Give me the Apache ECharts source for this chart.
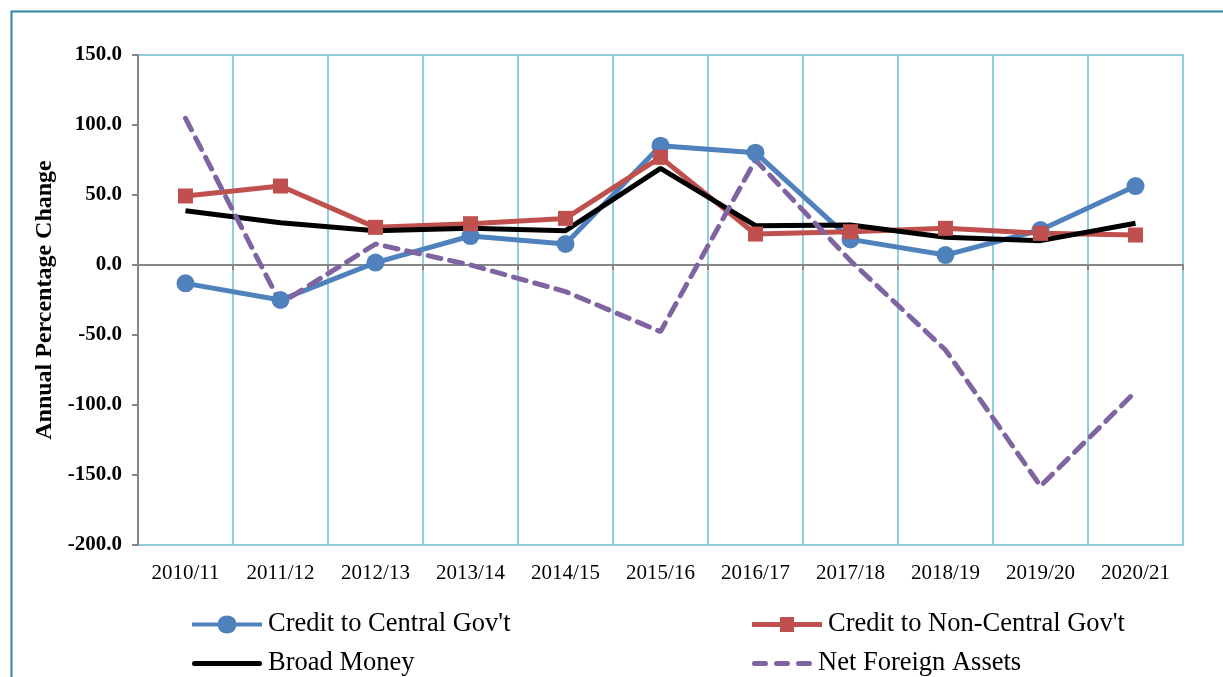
<!DOCTYPE html>
<html>
<head>
<meta charset="utf-8">
<script src="https://cdn.jsdelivr.net/npm/echarts@6/dist/echarts.min.js"></script>
<style>
  html, body { margin: 0; padding: 0; background: #fff; }
  #chart { width: 1223px; height: 677px; }
</style>
</head>
<body>
<div id="chart"></div>
<script>
// fiscal years on the x axis
const years = ['2010/11', '2011/12', '2012/13', '2013/14', '2014/15', '2015/16',
  '2016/17', '2017/18', '2018/19', '2019/20', '2020/21']

// annual percentage change
const creditCentral = [-13.1, -25.0, 1.7, 20.7, 15.0, 85.2, 80.2, 18.3, 7.1, 25.0, 56.4]
const creditNonCentral = [49.3, 56.4, 26.9, 29.5, 33.3, 76.9, 22.1, 23.8, 26.2, 22.6, 21.4]
const broadMoney = [38.8, 30.2, 24.5, 26.2, 24.5, 69.0, 28.1, 28.6, 19.8, 17.4, 29.8]
const netForeign = [104.8, -27.4, 15.0, 0.0, -19.0, -47.6, 75.0, 3.0, -60.7, -157.9, -90.5]

const serif = "'Liberation Serif', 'DejaVu Serif', serif"

// legend icons: thick line with the marker in the middle
const iconCircle = 'path://M0,6 L26,6 A9,9 0 1 1 44,6 L70,6 L70,11 L44,11 A9,9 0 1 1 26,11 L0,11 Z'
const iconSquare = 'path://M0,6 L28,6 L28,1 L42,1 L42,6 L70,6 L70,11 L42,11 L42,16 L28,16 L28,11 L0,11 Z'
const iconLine = 'path://M2.5,0 L67.5,0 A2.5,2.5 0 0 1 67.5,5 L2.5,5 A2.5,2.5 0 0 1 2.5,0 Z'
const iconDash = 'path://M2.5,0 L13.5,0 A2.5,2.5 0 0 1 13.5,5 L2.5,5 A2.5,2.5 0 0 1 2.5,0 Z ' +
  'M24.5,0 L35.5,0 A2.5,2.5 0 0 1 35.5,5 L24.5,5 A2.5,2.5 0 0 1 24.5,0 Z ' +
  'M46.5,0 L57.5,0 A2.5,2.5 0 0 1 57.5,5 L46.5,5 A2.5,2.5 0 0 1 46.5,0 Z'

function legendItem(name, icon, left, top, w, h) {
  return {
    left: left, top: top,
    padding: 0,
    itemWidth: w, itemHeight: h,
    itemGap: 0,
    symbolKeepAspect: false,
    icon: icon,
    itemStyle: { borderWidth: 0 },
    textStyle: { fontFamily: serif, fontSize: 26.5, color: '#000', padding: [0, 0, 0, 1] },
    data: [name]
  }
}

let chart = echarts.init(document.getElementById('chart'))

let option = {
  backgroundColor: '#fff',
  animation: false,
  graphic: [
    {
      // outer frame of the figure
      type: 'rect',
      left: 9, top: 9,
      shape: { width: 1240, height: 700 },
      style: { fill: 'none', stroke: '#31849B', lineWidth: 2 },
      silent: true
    }
  ],
  grid: {
    left: 138, top: 55, right: 40, bottom: 132,
    show: true,
    borderColor: '#92CDDC',
    borderWidth: 2,
    backgroundColor: 'transparent'
  },
  legend: [
    legendItem('Credit to Central Gov\'t', iconCircle, 192, 611, 70, 18),
    legendItem('Broad Money', iconLine, 192, 650, 70, 5),
    legendItem('Credit to Non-Central Gov\'t', iconSquare, 752, 611, 70, 15),
    legendItem('Net Foreign Assets', iconDash, 752, 650, 60, 5)
  ],
  xAxis: [
    {
      type: 'category',
      data: years,
      boundaryGap: true,
      axisLine: { show: false, onZero: false },
      axisTick: { show: false },
      axisLabel: { fontFamily: serif, fontSize: 21, color: '#000', margin: 18 },
      splitLine: { show: true, lineStyle: { color: '#92CDDC', width: 2 } }
    },
    {
      // the zero line with its ticks
      type: 'category',
      data: years,
      position: 'bottom',
      boundaryGap: true,
      axisLine: { show: true, onZero: true, lineStyle: { color: '#868686', width: 2 } },
      axisTick: { show: true, length: 5, lineStyle: { color: '#868686', width: 2 } },
      axisLabel: { show: false },
      splitLine: { show: false }
    }
  ],
  yAxis: {
    type: 'value',
    min: -200, max: 150, interval: 50,
    name: 'Annual Percentage Change',
    nameLocation: 'middle',
    nameGap: 77,
    nameTextStyle: { fontFamily: serif, fontSize: 24, fontWeight: 'bold', color: '#000' },
    axisLine: { show: true, lineStyle: { color: '#868686', width: 2 } },
    axisTick: { show: true, length: 6, lineStyle: { color: '#868686', width: 2 } },
    axisLabel: {
      fontFamily: serif, fontSize: 21, fontWeight: 'bold', color: '#000', margin: 16,
      formatter: v => v.toFixed(1)
    },
    splitLine: { show: false }
  },
  series: [
    {
      name: 'Credit to Central Gov\'t',
      type: 'line',
      data: creditCentral,
      color: '#4F81BD',
      symbol: 'circle', symbolSize: 18,
      lineStyle: { width: 5 }
    },
    {
      name: 'Credit to Non-Central Gov\'t',
      type: 'line',
      data: creditNonCentral,
      color: '#C0504D',
      symbol: 'rect', symbolSize: 15,
      lineStyle: { width: 5 }
    },
    {
      name: 'Broad Money',
      type: 'line',
      data: broadMoney,
      color: '#000000',
      symbol: 'none',
      lineStyle: { width: 5 }
    },
    {
      name: 'Net Foreign Assets',
      type: 'line',
      data: netForeign,
      color: '#8064A2',
      symbol: 'none',
      lineStyle: { width: 5, type: [13, 9], cap: 'round' }
    }
  ]
}

chart.setOption(option)
</script>
</body>
</html>
